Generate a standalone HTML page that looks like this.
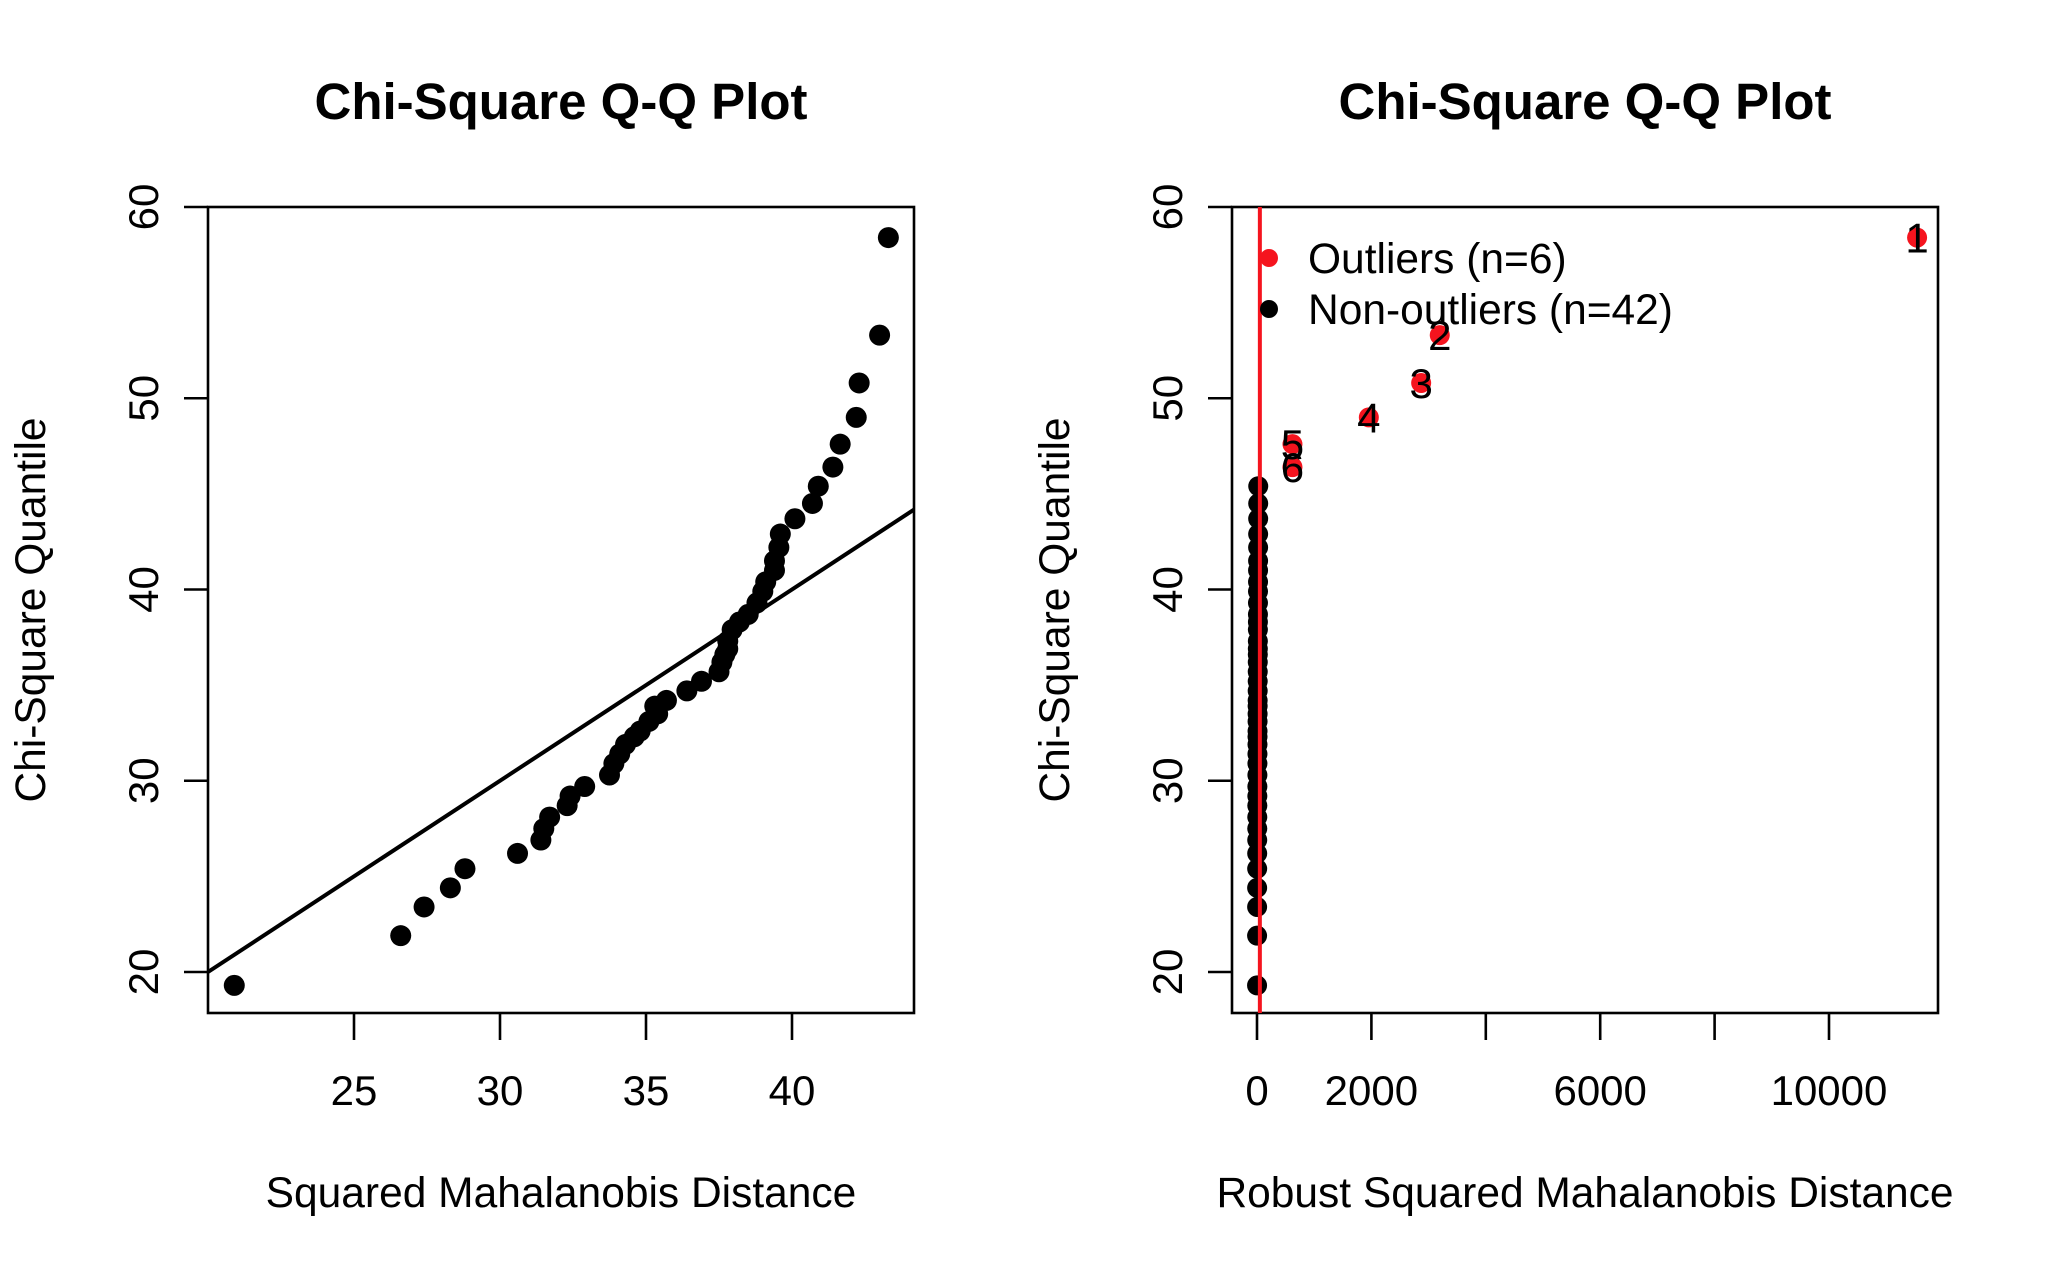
<!DOCTYPE html>
<html><head><meta charset="utf-8"><style>
html,body{margin:0;padding:0;background:#fff;}
svg{display:block;font-family:"Liberation Sans",Arial,sans-serif;}
</style></head><body>
<svg id="chart" width="2046" height="1272" viewBox="0 0 2046 1272" xmlns="http://www.w3.org/2000/svg">
<rect x="0" y="0" width="2046" height="1272" fill="#fff"/>
<g id="left"></g>
<g id="right"></g>
</svg>
<script>
const mdist = [20.9,26.6,27.4,28.3,28.8,30.6,31.4,31.5,31.7,32.3,32.4,32.9,33.75,33.9,34.1,34.3,34.6,34.8,35.1,35.4,35.3,35.7,36.4,36.9,37.5,37.6,37.7,37.8,37.8,37.95,38.2,38.5,38.8,39.0,39.1,39.4,39.4,39.55,39.6,40.1,40.7,40.9,41.4,41.65,42.2,42.3,43.0,43.3];
const quantiles = [19.3,21.9,23.4,24.4,25.4,26.2,26.9,27.5,28.1,28.7,29.2,29.7,30.3,30.9,31.4,31.9,32.3,32.6,33.1,33.5,33.9,34.2,34.7,35.2,35.7,36.2,36.6,36.9,37.3,37.9,38.3,38.7,39.3,39.9,40.4,41.0,41.5,42.2,42.9,43.7,44.5,45.4,46.4,47.6,49.0,50.8,53.3,58.4];
const robustNonOut = [10,15,20,25,30,35,40,45,50,55,60,65,70,75,80,85,90,95,100,105,110,115,120,125,130,135,140,145,150,155,160,165,170,175,180,185,190,195,200,205,210,215];
const outlierX = [620,620,1955,2870,3195,11540];
const outlierY = [46.4,47.6,49.0,50.8,53.3,58.4];
const outlierLabels = ["6","5","4","3","2","1"];
const cutoff = 50;
const yTicks = [20,30,40,50,60];
const xTicksLeft = [25,30,35,40];
const xTicksRight = [0,2000,4000,6000,8000,10000];
const xTickLabelsRight = ["0","2000","","6000","","10000"];

const NS="http://www.w3.org/2000/svg";
function mk(parent,tag,attrs,text){const e=document.createElementNS(NS,tag);for(const k in attrs)e.setAttribute(k,attrs[k]);if(text!==undefined)e.textContent=text;parent.appendChild(e);return e;}
const pTop=207, pBot=1013;
const yS=v=>972-(v-20)*(972-207)/40;

function frame(g,x0,x1,title,xlab,cx){
  const r=mk(g,'rect',{x:x0,y:pTop,width:x1-x0,height:pBot-pTop,fill:'none',stroke:'#000','stroke-width':2.6});
  
  
  const t=mk(g,'text',{x:cx,y:119,'text-anchor':'middle','font-size':51,'font-weight':'bold'},title);
  
  
  const xl=mk(g,'text',{x:cx,y:1207,'text-anchor':'middle','font-size':42.5},xlab);
  
  
  const yl=mk(g,'text',{x:0,y:0,'text-anchor':'middle','font-size':42.5,transform:`translate(${x0-163},${(pTop+pBot)/2}) rotate(-90)`},'Chi-Square Quantile');
  
  
  yTicks.forEach(v=>{
    const l=mk(g,'line',{x1:x0-24,x2:x0,y1:yS(v),y2:yS(v),stroke:'#000','stroke-width':2.6});
    
    
    const tl=mk(g,'text',{x:0,y:0,'text-anchor':'middle','font-size':42,transform:`translate(${x0-50},${yS(v)}) rotate(-90)`},String(v));
    
    
  });
}
function xticks(g,vals,labels,xs){
  vals.forEach((v,i)=>{
    const l=mk(g,'line',{x1:xs(v),x2:xs(v),y1:pBot,y2:pBot+27,stroke:'#000','stroke-width':2.6});
    
    
    if(labels[i]!==""){const t=mk(g,'text',{x:xs(v),y:1105,'text-anchor':'middle','font-size':42},labels[i]);
    
    }
  });
}
// left
const L=document.getElementById('left');
const xL=v=>208+(v-20)*29.2;
frame(L,208,914,'Chi-Square Q-Q Plot','Squared Mahalanobis Distance',561);
xticks(L,xTicksLeft,xTicksLeft.map(String),xL);
const cl=mk(L,'clipPath',{id:'clipL'});mk(cl,'rect',{x:208,y:pTop,width:706,height:pBot-pTop});
const ref=mk(L,'line',{x1:xL(20),y1:yS(20),x2:xL(45),y2:yS(45),stroke:'#000','stroke-width':4,'clip-path':'url(#clipL)'});


mdist.forEach((v,i)=>{const c=mk(L,'circle',{cx:xL(v),cy:yS(quantiles[i]),r:10.5,fill:'#000'});

});
// right
const R=document.getElementById('right');
const xR=v=>1257+v*0.0572;
frame(R,1232,1938,'Chi-Square Q-Q Plot','Robust Squared Mahalanobis Distance',1585);
xticks(R,xTicksRight,xTickLabelsRight,xR);
robustNonOut.forEach((v,i)=>{const c=mk(R,'circle',{cx:xR(v*0.1),cy:yS(quantiles[i]),r:10,fill:'#000'});

});
outlierX.forEach((v,i)=>{const c=mk(R,'circle',{cx:xR(v),cy:yS(outlierY[i]),r:10,fill:'#f5141e'});

});
const cut=mk(R,'line',{x1:xR(cutoff),x2:xR(cutoff),y1:pTop,y2:pBot,stroke:'#f5141e','stroke-width':4});


outlierX.forEach((v,i)=>{const t=mk(R,'text',{x:xR(v),y:yS(outlierY[i])+15,'text-anchor':'middle','font-size':42},outlierLabels[i]);

});
// legend
const lg=mk(R,'g',{});


const d1=mk(lg,'circle',{cx:1269,cy:258,r:9,fill:'#f5141e'});


const t1=mk(lg,'text',{x:1308,y:273,'font-size':42.5},'Outliers (n=6)');


const d2=mk(lg,'circle',{cx:1269,cy:309,r:9,fill:'#000'});


const t2=mk(lg,'text',{x:1308,y:324,'font-size':42.5},'Non-outliers (n=42)');


</script>
</body></html>
